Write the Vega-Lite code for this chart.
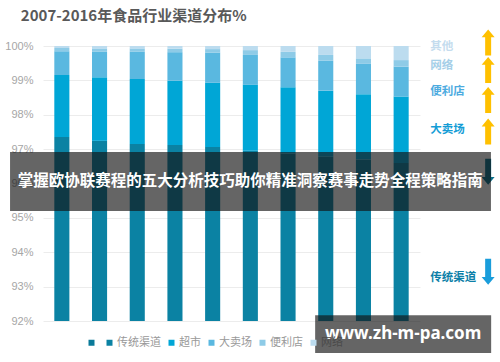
{
  "$schema": "https://vega.github.io/schema/vega-lite/v6.json",
  "width": 377,
  "height": 275,
  "autosize": {"type": "none"},
  "padding": {"left": 43, "top": 46, "right": 80, "bottom": 41},
  "background": "white",
  "title": {
    "text": "2007-2016年食品行业渠道分布%",
    "anchor": "start",
    "dx": 16,
    "offset": 6,
    "fontSize": 15,
    "fontWeight": "bold",
    "color": "#595959",
    "font": "Noto Sans CJK SC"
  },
  "config": {
    "view": {"stroke": null},
    "font": "Noto Sans CJK SC",
    "axisY": {
      "labelOverlap": false,
      "labelFont": "Liberation Sans",
      "labelFontSize": 11,
      "labelColor": "#a6a6a6",
      "gridColor": "#ececec",
      "domain": false,
      "ticks": false,
      "tickSize": 0,
      "tickCount": 12,
      "labelPadding": 10
    }
  },
  "datasets": {
    "bars": [
      {"year": "2007", "channel": "传统渠道", "k": 1, "share": 97.35},
      {"year": "2007", "channel": "超市", "k": 2, "share": 1.81},
      {"year": "2007", "channel": "大卖场", "k": 3, "share": 0.69},
      {"year": "2007", "channel": "便利店", "k": 4, "share": 0.09},
      {"year": "2007", "channel": "网络", "k": 5, "share": 0.06},
      {"year": "2008", "channel": "传统渠道", "k": 1, "share": 97.24},
      {"year": "2008", "channel": "超市", "k": 2, "share": 1.85},
      {"year": "2008", "channel": "大卖场", "k": 3, "share": 0.74},
      {"year": "2008", "channel": "便利店", "k": 4, "share": 0.10},
      {"year": "2008", "channel": "网络", "k": 5, "share": 0.07},
      {"year": "2009", "channel": "传统渠道", "k": 1, "share": 97.15},
      {"year": "2009", "channel": "超市", "k": 2, "share": 1.89},
      {"year": "2009", "channel": "大卖场", "k": 3, "share": 0.79},
      {"year": "2009", "channel": "便利店", "k": 4, "share": 0.10},
      {"year": "2009", "channel": "网络", "k": 5, "share": 0.07},
      {"year": "2010", "channel": "传统渠道", "k": 1, "share": 97.12},
      {"year": "2010", "channel": "超市", "k": 2, "share": 1.87},
      {"year": "2010", "channel": "大卖场", "k": 3, "share": 0.83},
      {"year": "2010", "channel": "便利店", "k": 4, "share": 0.10},
      {"year": "2010", "channel": "网络", "k": 5, "share": 0.08},
      {"year": "2011", "channel": "传统渠道", "k": 1, "share": 97.06},
      {"year": "2011", "channel": "超市", "k": 2, "share": 1.87},
      {"year": "2011", "channel": "大卖场", "k": 3, "share": 0.88},
      {"year": "2011", "channel": "便利店", "k": 4, "share": 0.10},
      {"year": "2011", "channel": "网络", "k": 5, "share": 0.09},
      {"year": "2012", "channel": "传统渠道", "k": 1, "share": 96.95},
      {"year": "2012", "channel": "超市", "k": 2, "share": 1.92},
      {"year": "2012", "channel": "大卖场", "k": 3, "share": 0.87},
      {"year": "2012", "channel": "便利店", "k": 4, "share": 0.14},
      {"year": "2012", "channel": "网络", "k": 5, "share": 0.12},
      {"year": "2013", "channel": "传统渠道", "k": 1, "share": 96.87},
      {"year": "2013", "channel": "超市", "k": 2, "share": 1.93},
      {"year": "2013", "channel": "大卖场", "k": 3, "share": 0.87},
      {"year": "2013", "channel": "便利店", "k": 4, "share": 0.16},
      {"year": "2013", "channel": "网络", "k": 5, "share": 0.17},
      {"year": "2014", "channel": "传统渠道", "k": 1, "share": 96.78},
      {"year": "2014", "channel": "超市", "k": 2, "share": 1.92},
      {"year": "2014", "channel": "大卖场", "k": 3, "share": 0.87},
      {"year": "2014", "channel": "便利店", "k": 4, "share": 0.17},
      {"year": "2014", "channel": "网络", "k": 5, "share": 0.26},
      {"year": "2015", "channel": "传统渠道", "k": 1, "share": 96.70},
      {"year": "2015", "channel": "超市", "k": 2, "share": 1.90},
      {"year": "2015", "channel": "大卖场", "k": 3, "share": 0.88},
      {"year": "2015", "channel": "便利店", "k": 4, "share": 0.16},
      {"year": "2015", "channel": "网络", "k": 5, "share": 0.36},
      {"year": "2016", "channel": "传统渠道", "k": 1, "share": 96.60},
      {"year": "2016", "channel": "超市", "k": 2, "share": 1.93},
      {"year": "2016", "channel": "大卖场", "k": 3, "share": 0.87},
      {"year": "2016", "channel": "便利店", "k": 4, "share": 0.19},
      {"year": "2016", "channel": "网络", "k": 5, "share": 0.41}
    ],
    "notes": [
      {"name": "其他", "labelAt": 99.97, "arrowAt": 100.1, "trend": "up"},
      {"name": "网络", "labelAt": 99.42, "arrowAt": 99.3, "trend": "up"},
      {"name": "便利店", "labelAt": 98.66, "arrowAt": 98.43, "trend": "up"},
      {"name": "大卖场", "labelAt": 97.56, "arrowAt": 97.51, "trend": "up"},
      {"name": "超市", "labelAt": 96.3, "arrowAt": 96.34, "trend": "down"},
      {"name": "传统渠道", "labelAt": 93.26, "arrowAt": 93.43, "trend": "down"}
    ]
  },
  "resolve": {"scale": {"color": "independent"}},
  "layer": [
    {
      "data": {"name": "bars"},
      "mark": {"type": "bar", "clip": true},
      "encoding": {
        "x": {
          "field": "year",
          "type": "ordinal",
          "scale": {"domain": ["2007","2008","2009","2010","2011","2012","2013","2014","2015","2016"], "paddingInner": 0.6, "paddingOuter": 0.3},
          "axis": null
        },
        "y": {
          "field": "share",
          "type": "quantitative",
          "stack": "zero",
          "scale": {"domain": [92, 100], "nice": false, "zero": false},
          "axis": {
            "title": null,
            "values": [92, 93, 94, 95, 96, 97, 98, 99, 100],
            "tickCount": 12,
            "labelExpr": "datum.value + '%'",
            "labelOverlap": false
          }
        },
        "color": {
          "field": "channel",
          "type": "nominal",
          "scale": {
            "domain": ["空", "传统渠道", "超市", "大卖场", "便利店", "网络"],
            "range": ["#0a7a99", "#0b82a3", "#00a6d6", "#5ab8e0", "#8ecbe7", "#bcdcef"]
          },
          "legend": {
            "orient": "none",
            "legendX": 43,
            "legendY": 291,
            "direction": "horizontal",
            "title": null,
            "symbolType": "square",
            "symbolSize": 36,
            "symbolStrokeWidth": 0,
            "labelFont": "Noto Sans CJK SC",
            "labelFontSize": 11,
            "labelColor": {"expr": "datum.label == '网络' ? '#4a4a4a' : '#999999'"},
            "labelOffset": 2,
            "columnPadding": 5,
            "labelExpr": "datum.label == '空' ? '' : datum.label"
          }
        },
        "order": {"field": "k", "type": "quantitative", "sort": "ascending"}
      }
    },
    {
      "data": {"name": "notes"},
      "transform": [{"filter": "datum.name != '超市'"}],
      "mark": {"type": "text", "align": "left", "baseline": "middle", "dx": 29, "fontSize": 11.5, "fontWeight": "bold", "font": "Noto Sans CJK SC"},
      "encoding": {
        "x": {"datum": "2016"},
        "y": {"field": "labelAt", "type": "quantitative"},
        "text": {"field": "name"},
        "color": {
          "field": "name",
          "type": "nominal",
          "scale": {
            "domain": ["其他", "网络", "便利店", "大卖场", "传统渠道"],
            "range": ["#c4dcee", "#a6cfe8", "#4dabdf", "#149dd6", "#0d7fa8"]
          },
          "legend": null
        }
      }
    },
    {
      "data": {"name": "notes"},
      "mark": {
        "type": "point",
        "shape": "M0,-1L0.5,-0.4L0.23,-0.4L0.23,1L-0.23,1L-0.23,-0.4L-0.5,-0.4Z",
        "filled": true,
        "opacity": 1,
        "size": 676,
        "xOffset": 87
      },
      "encoding": {
        "x": {"datum": "2016"},
        "y": {"field": "arrowAt", "type": "quantitative"},
        "angle": {"field": "trend", "type": "nominal", "scale": {"domain": ["up", "down"], "range": [0, 180]}, "legend": null},
        "color": {
          "field": "name",
          "type": "nominal",
          "scale": {
            "domain": ["其他", "网络", "便利店", "大卖场", "超市", "传统渠道"],
            "range": ["#ffc000", "#ffc000", "#ffc000", "#ffc000", "#0b6f8a", "#1a9ddb"]
          },
          "legend": null
        }
      }
    },
    {
      "data": {"values": [{"kind": "banner"}]},
      "mark": {"type": "rect", "color": "#131313", "opacity": 0.65, "xOffset": -51.8, "x2Offset": 89.8},
      "encoding": {
        "x": {"datum": "2007", "bandPosition": 0.5},
        "x2": {"datum": "2016", "bandPosition": 0.5},
        "y": {"datum": 96.92},
        "y2": {"datum": 95.2}
      }
    },
    {
      "data": {"values": [{"caption": "掌握欧协联赛程的五大分析技巧助你精准洞察赛事走势全程策略指南"}]},
      "mark": {"type": "text", "align": "center", "baseline": "middle", "color": "white", "fontSize": 15.5, "fontWeight": "bold", "font": "Noto Sans CJK SC"},
      "encoding": {
        "x": {"datum": "2012"},
        "y": {"datum": 96.06},
        "text": {"field": "caption"}
      }
    },
    {
      "data": {"values": [{"kind": "watermark"}]},
      "mark": {"type": "rect", "color": "#131313", "opacity": 0.65, "xOffset": -86, "x2Offset": 90},
      "encoding": {
        "x": {"datum": "2016", "bandPosition": 0.5},
        "x2": {"datum": "2016", "bandPosition": 0.5},
        "y": {"datum": 92.17},
        "y2": {"datum": 91.07}
      }
    },
    {
      "data": {"values": [{"caption": "www.zh-m-pa.com"}]},
      "mark": {"type": "text", "align": "center", "baseline": "middle", "dx": 2, "color": "white", "fontSize": 17, "fontWeight": "bold", "font": "Noto Sans"},
      "encoding": {
        "x": {"datum": "2016"},
        "y": {"datum": 91.62},
        "text": {"field": "caption"}
      }
    }
  ]
}
